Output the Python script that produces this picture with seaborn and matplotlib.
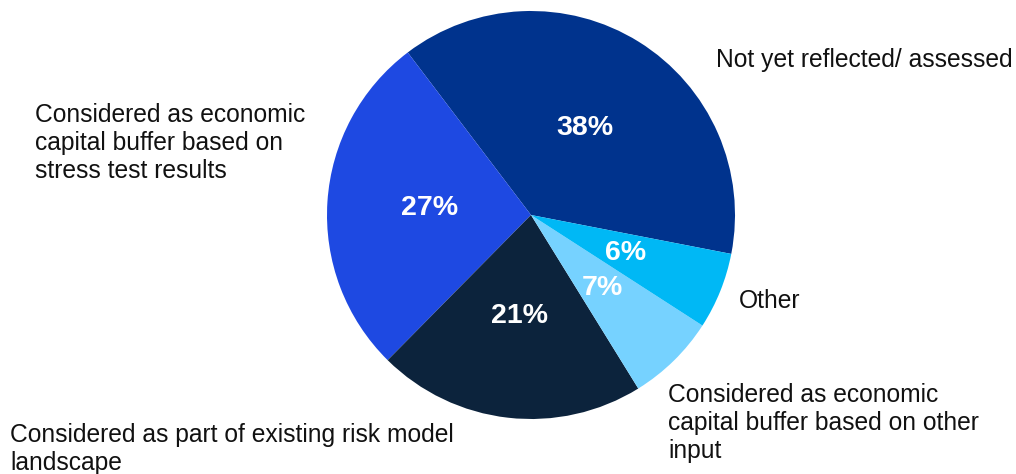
import matplotlib
matplotlib.use("Agg")
import matplotlib.pyplot as plt
import seaborn as sns

# Survey shares, counter-clockwise from the right-hand side
categories = [
    "Not yet reflected/ assessed",
    "Considered as economic\ncapital buffer based on\nstress test results",
    "Considered as part of existing risk model\nlandscape",
    "Considered as economic\ncapital buffer based on other\ninput",
    "Other",
]
shares = [38, 27, 21, 7, 6]
colors = ["#00338D", "#1E49E2", "#0C233C", "#76D2FF", "#00B8F5"]

sns.set_theme(style="white")
plt.rcParams["font.family"] = ["Liberation Sans", "DejaVu Sans"]

W, H = 1016, 474
fig = plt.figure(figsize=(W / 100, H / 100), dpi=100)
cx, cy, r = 531, 215, 204
ax = fig.add_axes([(cx - r) / W, (H - cy - r) / H, 2 * r / W, 2 * r / H])

wedges, _, autotexts = ax.pie(
    shares,
    colors=colors,
    startangle=-11,
    counterclock=True,
    autopct=lambda p: f"{round(p * sum(shares) / 100):.0f}%",
    pctdistance=0.5,
    wedgeprops=dict(linewidth=0),
    textprops=dict(color="white", fontsize=20.5, fontweight="bold"),
)
ax.set_xlim(-1, 1)
ax.set_ylim(-1, 1)
ax.axis("off")

# Category labels around the pie: left edge and vertical block centre in pixels
label_pos = {
    0: (716, 60),
    1: (35, 143),
    2: (10, 449),
    3: (668, 423),
    4: (739, 301),
}
for i, (px, py) in label_pos.items():
    fig.text(px / W, 1 - py / H, categories[i], ha="left", va="center",
             fontsize=17.7, color="#111111", linespacing=1.2)

fig.savefig("out.png", dpi=100, facecolor="white")
